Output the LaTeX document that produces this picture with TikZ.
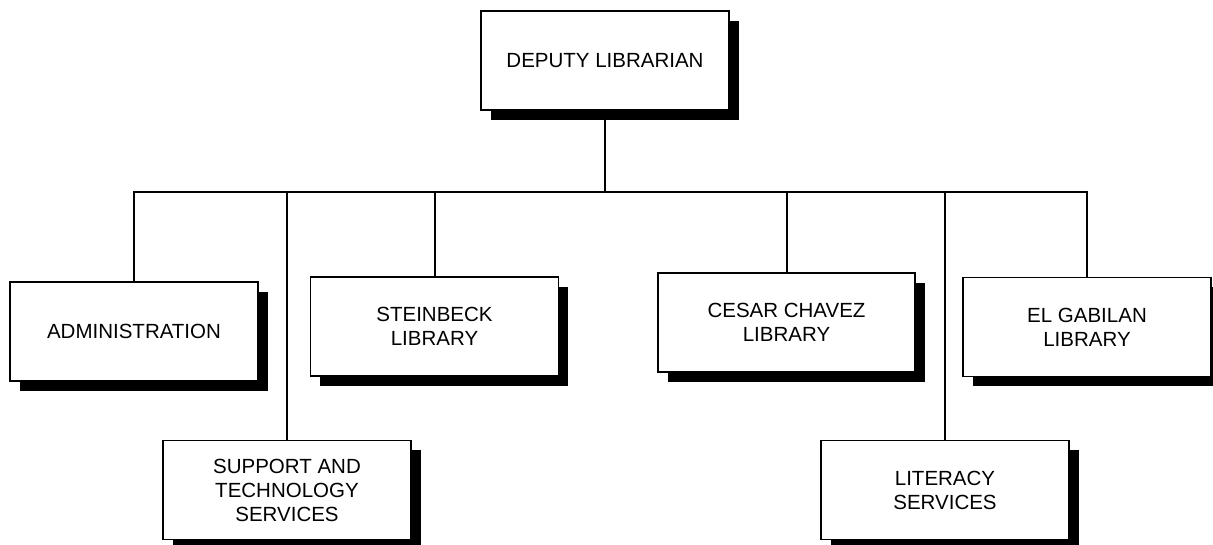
\documentclass[tikz,border=0pt]{standalone}
\usepackage{fontspec}
\setmainfont{Liberation Sans}
\usetikzlibrary{shadows}
\begin{document}
\begin{tikzpicture}[x=1pt,y=-1pt,
  unit/.style={draw=black, line width=1.6pt, fill=white, inner sep=0pt,
    minimum width=248pt, minimum height=99pt, align=center,
    font=\fontsize{20.5}{24}\selectfont,
    drop shadow={shadow xshift=9.5pt, shadow yshift=-9.5pt, fill=black, opacity=1}},
  link/.style={line width=2pt}]
\useasboundingbox (0,0) rectangle (1213,544);
\clip (0,0) rectangle (1213,544);

% head of the chart
\node[unit] (dep) at (605,60.5) {DEPUTY LIBRARIAN};

% units reporting to the deputy librarian
\node[unit] (adm) at (134,331.5) {ADMINISTRATION};
\node[unit] (sup) at (287,490) {SUPPORT AND\\TECHNOLOGY\\SERVICES};
\node[unit] (stb) at (434.5,326.5) {STEINBECK\\LIBRARY};
\node[unit, minimum width=257pt] (ccl) at (786.5,322.5) {CESAR CHAVEZ\\LIBRARY};
\node[unit] (lit) at (945,490) {LITERACY\\SERVICES};
\node[unit] (elg) at (1087,327) {EL GABILAN\\LIBRARY};

% reporting lines
\coordinate (bus) at (605,192);
\draw[link] (dep.south) -- (bus);
\draw[link] (adm.north) -- (adm.north |- bus) -- (elg.north |- bus) -- (elg.north);
\draw[link] (sup.north) -- (sup.north |- bus);
\draw[link] (stb.north) -- (stb.north |- bus);
\draw[link] (ccl.north) -- (ccl.north |- bus);
\draw[link] (lit.north) -- (lit.north |- bus);
\end{tikzpicture}
\end{document}
